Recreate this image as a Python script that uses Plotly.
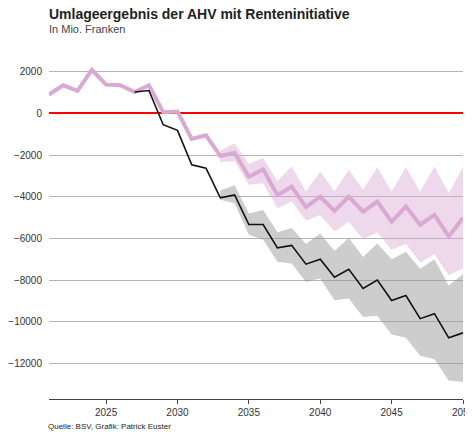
import plotly.graph_objects as go

years = list(range(2021, 2051))
initiative = [900, 1340, 1070, 2080, 1370, 1340, 1020, 1340, 50, 80,
              -1230, -1055, -2050, -1890, -3040, -2690, -3920, -3520, -4500, -4000,
              -4680, -3990, -4710, -4230, -5190, -4470, -5340, -4870, -5900, -5020]

band_years = list(range(2033, 2051))
init_upper = [-1800, -1440, -2420, -2140, -3250, -2540, -3750, -2790, -3750, -2710,
              -3670, -2590, -3750, -2590, -3750, -2550, -3830, -2590]
init_lower = [-2330, -2300, -3430, -3350, -4550, -4230, -5150, -4870, -5670, -5200,
              -6030, -5700, -6550, -6250, -7150, -6750, -7760, -7420]

base_years = list(range(2027, 2051))
baseline = [1020, 1090, -550, -820, -2470, -2630, -4050, -3910, -5333, -5333,
            -6450, -6330, -7230, -6990, -7860, -7480, -8390, -7990, -8970, -8730,
            -9840, -9600, -10760, -10520]
base_upper = [-3700, -3450, -4800, -4640, -5700, -5500, -6270, -5760, -6600, -5980,
              -6890, -6240, -7000, -6640, -7450, -7000, -8250, -7700]
base_lower = [-4150, -4310, -5820, -6060, -7120, -7200, -8080, -7920, -8960, -8880,
              -9760, -9700, -10600, -10760, -11620, -11780, -12800, -12880]

y_ticks = [2000, 0, -2000, -4000, -6000, -8000, -10000, -12000]
y_labels = ["2000", "0", "\u22122000", "\u22124000", "\u22126000", "\u22128000",
            "\u221210000", "\u221212000"]
x_ticks = [2025, 2030, 2035, 2040, 2045, 2050]

title = "Umlageergebnis der AHV mit Renteninitiative"
subtitle = "In Mio. Franken"
source = "Quelle: BSV, Grafik: Patrick Euster"

PINK = "#d9a8d3"
FONT = "Liberation Sans, Arial, sans-serif"

W, H = 481, 426
ML, MR, MT, MB = 41, 26, 49, 35
PW, PH = W - ML - MR, H - MT - MB

fig = go.Figure()
# pink band
fig.add_trace(go.Scatter(x=band_years, y=init_upper, mode="lines",
                         line=dict(color="rgba(255,255,255,0)", width=0),
                         hoverinfo="skip", showlegend=False))
fig.add_trace(go.Scatter(x=band_years, y=init_lower, mode="lines",
                         line=dict(color="rgba(255,255,255,0)", width=0),
                         fill="tonexty", fillcolor="rgba(217,168,212,0.45)",
                         hoverinfo="skip", showlegend=False))
# gray band
fig.add_trace(go.Scatter(x=band_years, y=base_upper, mode="lines",
                         line=dict(color="rgba(255,255,255,0)", width=0),
                         hoverinfo="skip", showlegend=False))
fig.add_trace(go.Scatter(x=band_years, y=base_lower, mode="lines",
                         line=dict(color="rgba(255,255,255,0)", width=0),
                         fill="tonexty", fillcolor="rgba(150,150,150,0.48)",
                         hoverinfo="skip", showlegend=False))
# lines
fig.add_trace(go.Scatter(x=years, y=initiative, mode="lines",
                         line=dict(color=PINK, width=4), showlegend=False))
fig.add_trace(go.Scatter(x=base_years, y=baseline, mode="lines",
                         line=dict(color="#111111", width=1.6), showlegend=False))

fig.update_layout(
    width=W, height=H,
    margin=dict(l=ML, r=MR, t=MT, b=MB, autoexpand=False),
    paper_bgcolor="white", plot_bgcolor="white",
    font=dict(family=FONT, size=10, color="#333333"),
    showlegend=False,
    xaxis=dict(range=[2021, 2050], tickvals=x_ticks, showgrid=False,
               showline=True, linecolor="#444444", linewidth=1,
               ticks="outside", ticklen=4, tickcolor="#444444", tickwidth=1,
               tickfont=dict(size=10, color="#333333"), zeroline=False,
               ticklabeloverflow="allow", automargin=False),
    yaxis=dict(range=[-13690, 2695], tickvals=y_ticks, ticktext=y_labels,
               showgrid=True, gridcolor="#b4b4b4", gridwidth=1, showline=False,
               ticks="", zeroline=True, zerolinecolor="#ff0000", zerolinewidth=2,
               tickfont=dict(size=10, color="#333333"), ticklabelstandoff=6,
               ticklabeloverflow="allow", automargin=False),
    annotations=[
        dict(text="<b>" + title + "</b>", xref="paper", yref="paper",
             x=-2 / PW, y=1 + 33 / PH, xanchor="left", yanchor="bottom",
             showarrow=False, font=dict(family=FONT, size=14, color="#222222")),
        dict(text=subtitle, xref="paper", yref="paper",
             x=-2 / PW, y=1 + 20 / PH, xanchor="left", yanchor="bottom",
             showarrow=False, font=dict(family=FONT, size=11, color="#444444")),
        dict(text=source, xref="paper", yref="paper",
             x=-3 / PW, y=-(MB - 1) / PH, xanchor="left", yanchor="bottom",
             showarrow=False, font=dict(family=FONT, size=8, color="#222222")),
    ],
)

fig.write_html("out.html")
